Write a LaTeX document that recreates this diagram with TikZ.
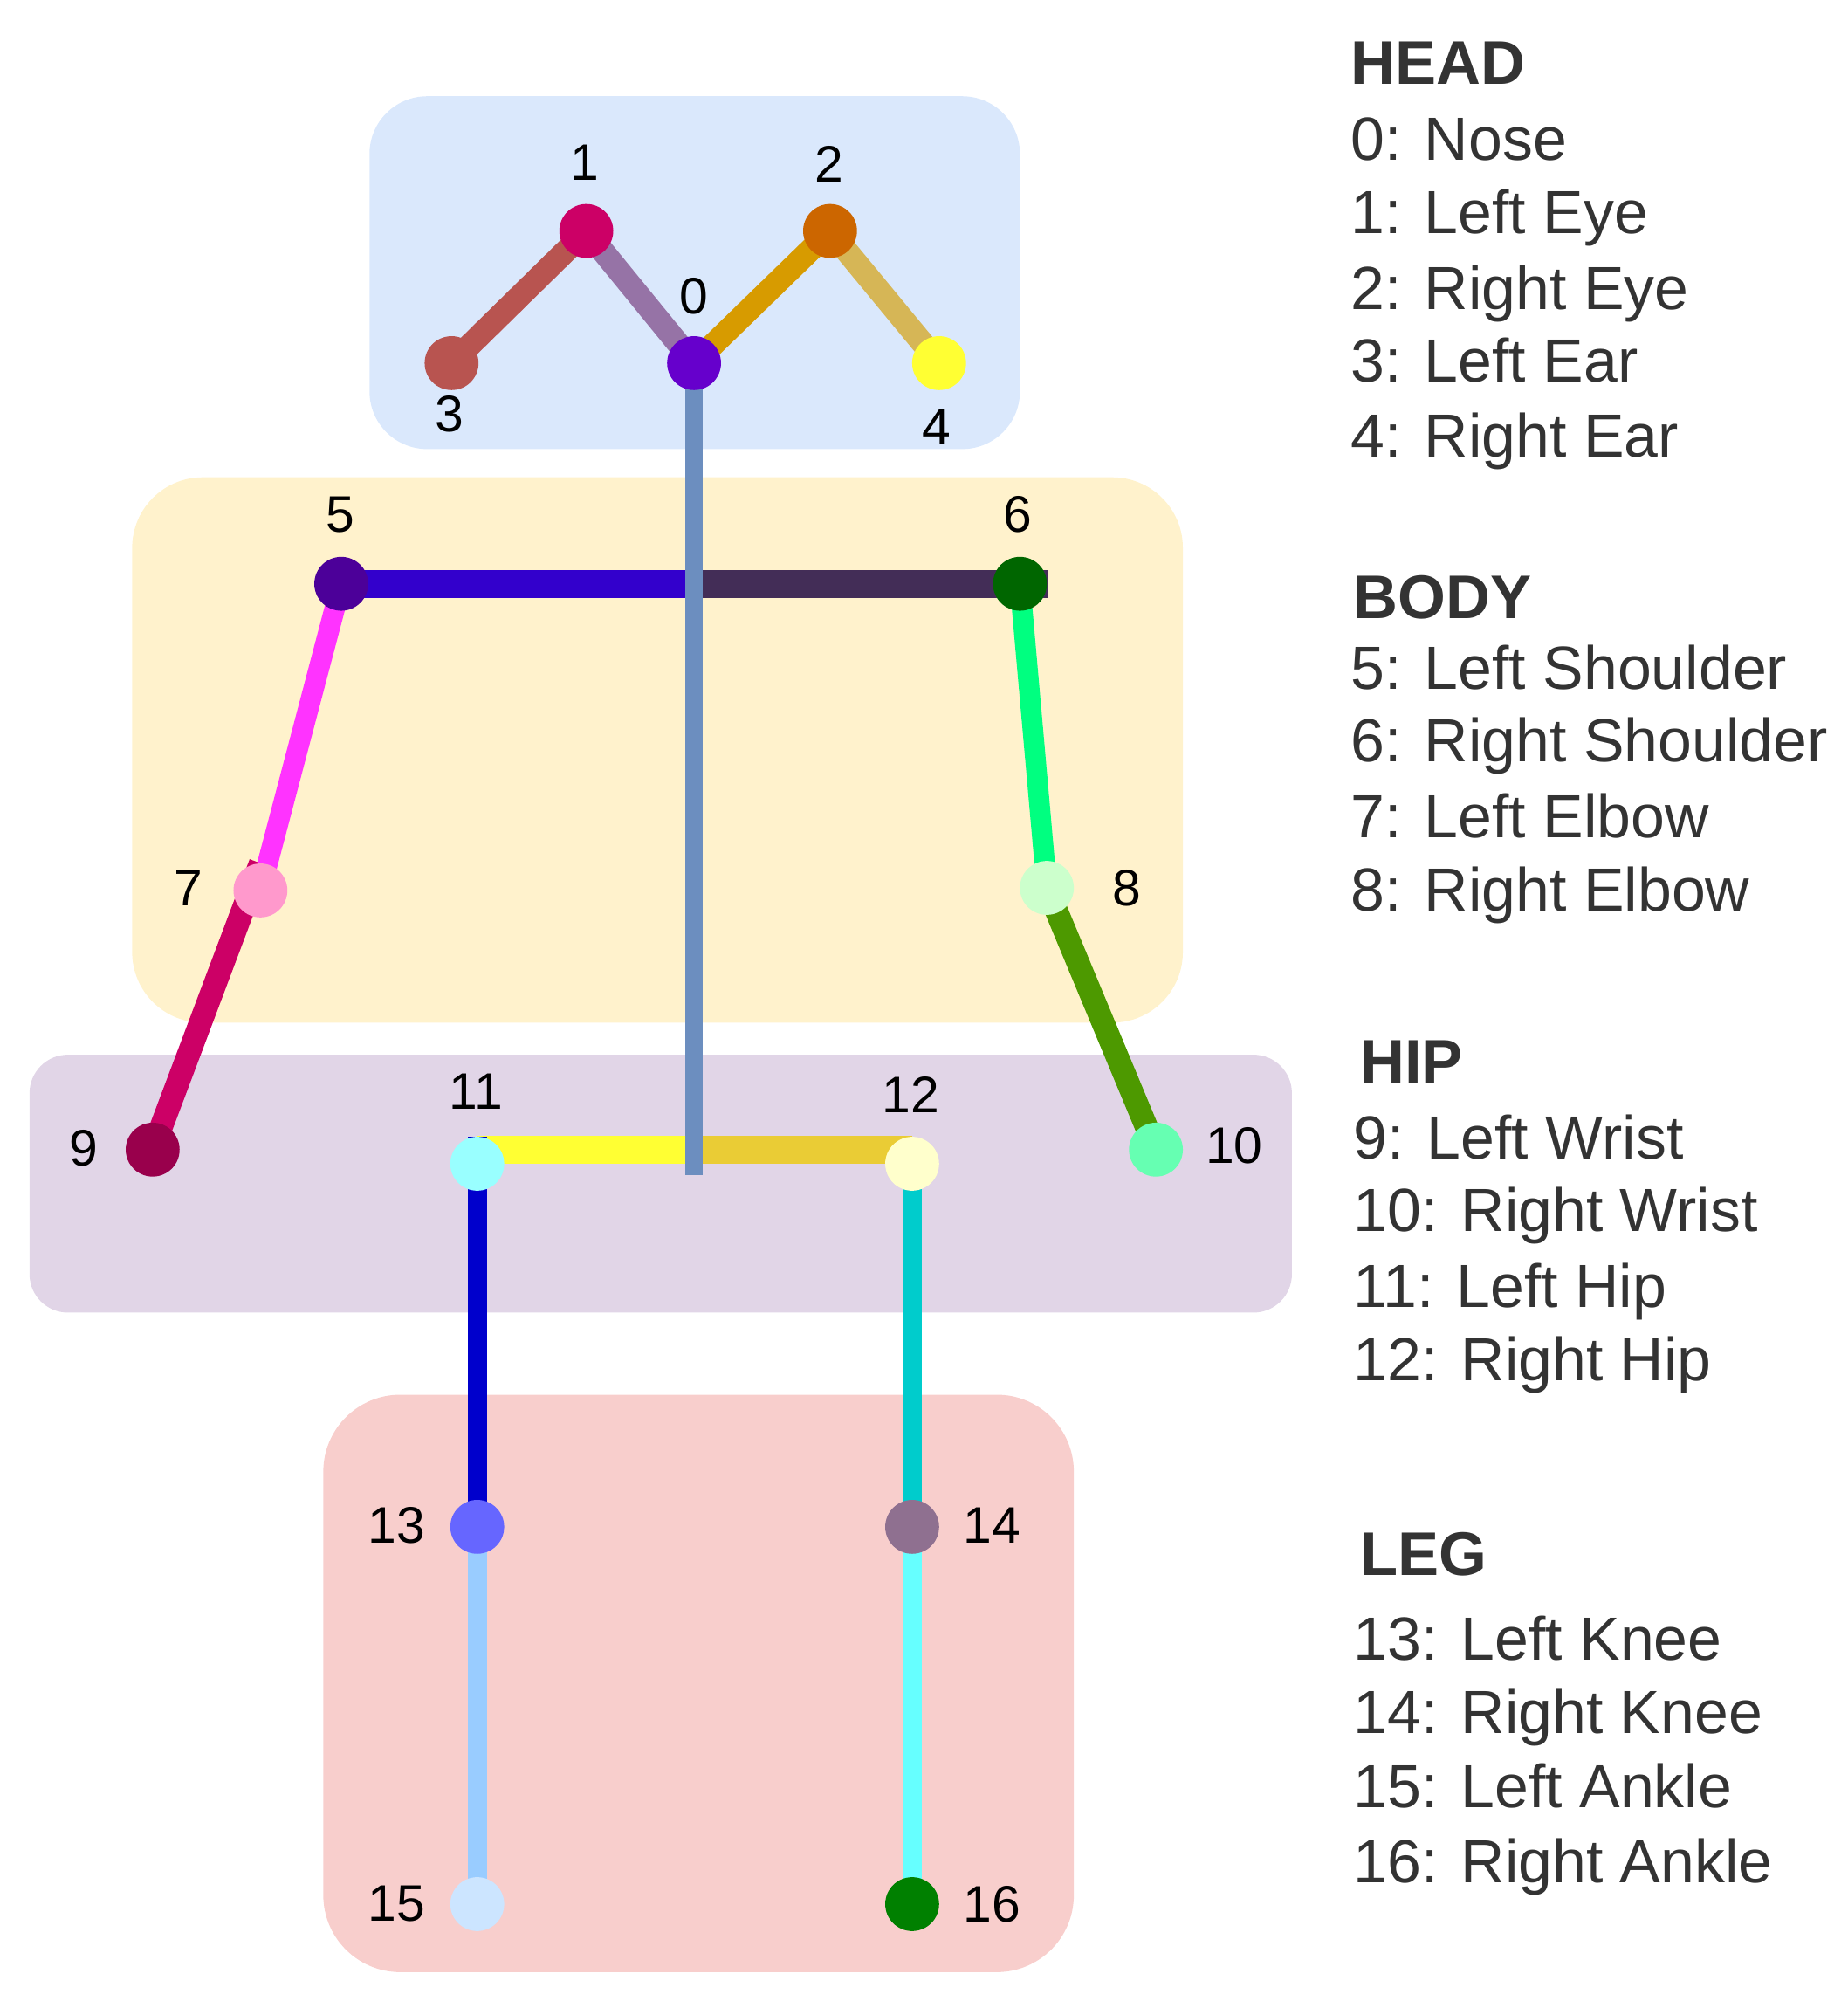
\documentclass[tikz,border=0pt]{standalone}
\usepackage{fontspec}
\setmainfont{Liberation Sans}
\pgfdeclarelayer{boxes}
\pgfdeclarelayer{bones}
\pgfsetlayers{boxes,bones,main}
\definecolor{headbg}{HTML}{DAE8FC}
\definecolor{bodybg}{HTML}{FFF2CC}
\definecolor{hipbg}{HTML}{E1D5E7}
\definecolor{legbg}{HTML}{F8CECC}
\definecolor{legendtxt}{HTML}{333333}
% keypoint colours
\definecolor{cnose}{HTML}{6600CC}
\definecolor{clefteye}{HTML}{CC0066}
\definecolor{crighteye}{HTML}{CC6600}
\definecolor{cleftear}{HTML}{B85450}
\definecolor{crightear}{HTML}{FFFF33}
\definecolor{clsho}{HTML}{4C0099}
\definecolor{crsho}{HTML}{006600}
\definecolor{clelb}{HTML}{FF99CC}
\definecolor{crelb}{HTML}{CCFFCC}
\definecolor{clwri}{HTML}{99004C}
\definecolor{crwri}{HTML}{66FFB2}
\definecolor{clhip}{HTML}{99FFFF}
\definecolor{crhip}{HTML}{FFFFCC}
\definecolor{clkne}{HTML}{6666FF}
\definecolor{crkne}{HTML}{8F7090}
\definecolor{clank}{HTML}{CCE5FF}
\definecolor{crank}{HTML}{008000}
% bone colours
\definecolor{bearl}{HTML}{B85450}
\definecolor{beyel}{HTML}{9673A6}
\definecolor{beyer}{HTML}{D79B00}
\definecolor{bearr}{HTML}{D6B656}
\definecolor{bshol}{HTML}{3300CC}
\definecolor{bshor}{HTML}{432D57}
\definecolor{buarml}{HTML}{FF33FF}
\definecolor{bfarml}{HTML}{CC0066}
\definecolor{buarmr}{HTML}{00FF80}
\definecolor{bfarmr}{HTML}{4D9900}
\definecolor{bhipl}{HTML}{FFFF33}
\definecolor{bhipr}{HTML}{EACC35}
\definecolor{bthil}{HTML}{0000CC}
\definecolor{bshil}{HTML}{99CCFF}
\definecolor{bthir}{HTML}{00CCCC}
\definecolor{bshir}{HTML}{66FFFF}
\definecolor{bspine}{HTML}{6C8EBF}
\begin{document}
\begin{tikzpicture}[x=1pt,y=-1pt,
    joint/.style={circle,inner sep=0pt,minimum size=42pt,fill=#1},
    bone/.style={line width=#1},
    num/.style={font=\fontsize{40}{44}\selectfont},
    legend/.style={anchor=base west,inner sep=0pt,text=legendtxt,font=\fontsize{47.5}{56}\selectfont},
    legendhead/.style={legend,font=\fontsize{48}{56}\selectfont\bfseries}]
  \useasboundingbox (0,0) rectangle (1440,1565);
  % groups
  \begin{pgfonlayer}{boxes}
    \fill[headbg] (288,75) [rounded corners=45pt] rectangle (795,350);
    \fill[bodybg] (103,372) [rounded corners=55pt] rectangle (922,797);
    \fill[hipbg] (23,822) [rounded corners=30pt] rectangle (1007,1023);
    \fill[legbg] (252,1087) [rounded corners=60pt] rectangle (837,1537);
  \end{pgfonlayer}
  % keypoints
  \node[joint=cnose] (k0) at (541,283) {};
  \node[joint=clefteye] (k1) at (457,180) {};
  \node[joint=crighteye] (k2) at (647,180) {};
  \node[joint=cleftear] (k3) at (352,283) {};
  \node[joint=crightear] (k4) at (732,283) {};
  \node[joint=clsho] (k5) at (266,455) {};
  \node[joint=crsho] (k6) at (795,455) {};
  \node[joint=clelb] (k7) at (203,694) {};
  \node[joint=crelb] (k8) at (816,692) {};
  \node[joint=clwri] (k9) at (119,896) {};
  \node[joint=crwri] (k10) at (901,896) {};
  \node[joint=clhip] (k11) at (372,907) {};
  \node[joint=crhip] (k12) at (711,907) {};
  \node[joint=clkne] (k13) at (372,1190) {};
  \node[joint=crkne] (k14) at (711,1190) {};
  \node[joint=clank] (k15) at (372,1484) {};
  \node[joint=crank] (k16) at (711,1484) {};
  \coordinate (neck) at (541,455);
  \coordinate (pelvis) at (541,896);
  \coordinate (spineend) at (541,916);
  % bones
  \begin{pgfonlayer}{bones}
    \draw[bone=18pt,bearl] (k3.center) -- (k1.center);
    \draw[bone=18pt,beyel] (k1.center) -- (k0.center);
    \draw[bone=18pt,beyer] (k0.center) -- (k2.center);
    \draw[bone=18pt,bearr] (k2.center) -- (k4.center);
    \draw[bone=22pt,bshol] (k5.center) -- (neck);
    \draw[bone=22pt,bshor] (neck) -- (k6.east);
    \draw[bone=16pt,buarml] (k5.center) -- (k7.center);
    \draw[bone=18pt,bfarml] (k7.north) -- (k9.center);
    \draw[bone=16pt,buarmr] (k6.center) -- (k8.center);
    \draw[bone=18pt,bfarmr] (k8.center) -- (k10.center);
    \draw[bone=22pt,bhipl] (k11.center |- pelvis) -- (pelvis);
    \draw[bone=22pt,bhipr] (pelvis) -- (k12.center |- pelvis);
    \draw[bone=15pt,bthil] (k11.north) -- (k13.center);
    \draw[bone=15pt,bshil] (k13.center) -- (k15.center);
    \draw[bone=15pt,bthir] (k12.center) -- (k14.center);
    \draw[bone=15pt,bshir] (k14.center) -- (k16.center);
    \draw[bone=14pt,bspine] (k0.center) -- (spineend);
  \end{pgfonlayer}
  % numbers
  \node[num] (n0) at (541,231) {0};
  \node[num] (n1) at (456,127) {1};
  \node[num] (n2) at (646,128) {2};
  \node[num] (n3) at (350,323) {3};
  \node[num] (n4) at (730,333) {4};
  \node[num] (n5) at (265,401) {5};
  \node[num] (n6) at (793,401) {6};
  \node[num] (n7) at (147,692) {7};
  \node[num] (n8) at (878,692) {8};
  \node[num] (n9) at (65,895) {9};
  \node[num] (n10) at (962,893) {10};
  \node[num] (n11) at (371,851) {11};
  \node[num] (n12) at (710,853) {12};
  \node[num] (n13) at (309,1189) {13};
  \node[num] (n14) at (773,1189) {14};
  \node[num] (n15) at (309,1484) {15};
  \node[num] (n16) at (773,1484) {16};
  % legend
  \node[legendhead] (lghead) at (1053,66) {HEAD};
  \node[legend] (lg0) at (1053,125) {0: Nose};
  \node[legend] (lg1) at (1053,182) {1: Left Eye};
  \node[legend] (lg2) at (1053,241) {2: Right Eye};
  \node[legend] (lg3) at (1053,298) {3: Left Ear};
  \node[legend] (lg4) at (1053,356) {4: Right Ear};
  \node[legendhead] (lgbody) at (1055,482) {BODY};
  \node[legend] (lg5) at (1053,537) {5: Left Shoulder};
  \node[legend] (lg6) at (1053,594) {6: Right Shoulder};
  \node[legend] (lg7) at (1053,653) {7: Left Elbow};
  \node[legend] (lg8) at (1053,710) {8: Right Elbow};
  \node[legendhead] (lghip) at (1060,844) {HIP};
  \node[legend] (lg9) at (1055,903) {9: Left Wrist};
  \node[legend] (lg10) at (1055,960) {10: Right Wrist};
  \node[legend] (lg11) at (1055,1019) {11: Left Hip};
  \node[legend] (lg12) at (1055,1076) {12: Right Hip};
  \node[legendhead] (lgleg) at (1060,1228) {LEG};
  \node[legend] (lg13) at (1055,1294) {13: Left Knee};
  \node[legend] (lg14) at (1055,1351) {14: Right Knee};
  \node[legend] (lg15) at (1055,1409) {15: Left Ankle};
  \node[legend] (lg16) at (1055,1467) {16: Right Ankle};
\end{tikzpicture}
\end{document}
